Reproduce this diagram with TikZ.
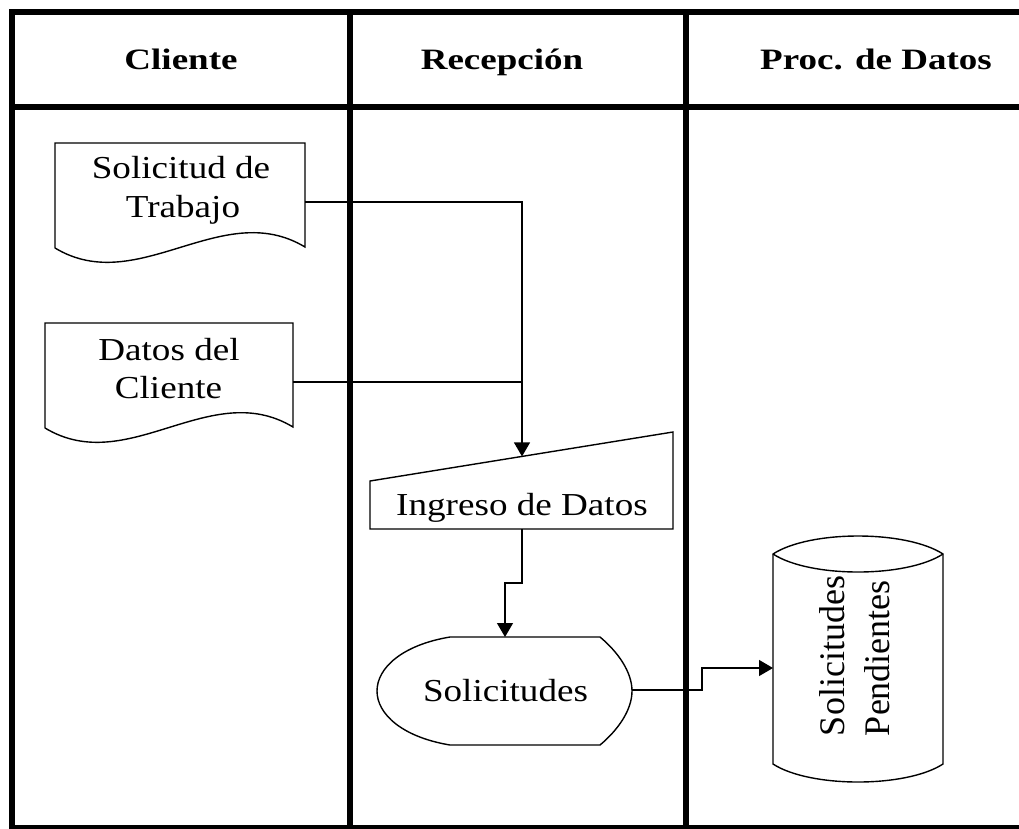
\documentclass[tikz,border=0pt]{standalone}
\usepackage{fontspec}
\usepackage{graphicx}
\setmainfont{Liberation Serif}
\usetikzlibrary{arrows.meta}
\newcommand{\sx}[1]{\scalebox{1.16}[1]{#1}}
\newcommand{\hx}[1]{\scalebox{1.25}[1]{#1}}
\tikzset{
  lane/.style={line width=6pt},
  shapeline/.style={line width=1.4pt, line join=miter},
  conn/.style={line width=1.3pt},
  arr/.style={conn, -{Triangle[width=16pt,length=14pt]}},
  body/.style={inner sep=0pt, font=\fontsize{32}{39}\selectfont, align=center},
  head/.style={inner sep=0pt, font=\bfseries\fontsize{29.6}{36}\selectfont, anchor=base},
}
\begin{document}
\begin{tikzpicture}[x=1pt, y=-1pt]
\useasboundingbox (0,0) rectangle (1019,828);
\fill[white] (0,0) rectangle (1019,828);
% lanes frame
\draw[lane] (12,9) -- (12,826);
\draw[lane] (9,12) -- (1030,12);
\draw[lane] (9,107) -- (1030,107);
\draw[lane] (350,12) -- (350,826);
\draw[lane] (686,12) -- (686,826);
\draw[line width=5pt] (9,827) -- (1030,827);
% headers
\node[head] (h1) at (181,69) {\hx{Cliente}};
\node[head] (h2) at (502,69) {\hx{Recepción}};
\node[head] (h3) at (876,69) {\hx{Proc. de Datos}};
% document 1
\draw[shapeline] (55,248) -- (55,143) -- (305,143) -- (305,247)
  .. controls (222,197) and (138,298) .. (55,248);
\node[body, anchor=base] (d1a) at (181,178) {\sx{Solicitud de}};
\node[body, anchor=base] (d1b) at (183,217) {\sx{Trabajo}};
\coordinate (d1E) at (305,202);
% document 2
\draw[shapeline] (45,428) -- (45,323) -- (293,323) -- (293,427)
  .. controls (210,377) and (128,478) .. (45,428);
\node[body, anchor=base] (d2a) at (169,360) {\sx{Datos del}};
\node[body, anchor=base] (d2b) at (168.5,398) {\sx{Cliente}};
\coordinate (d2E) at (293,382);
% manual input
\draw[shapeline] (370,481) -- (673,432) -- (673,529) -- (370,529) -- cycle;
\node[body, anchor=base] (ing) at (522,515) {\sx{Ingreso de Datos}};
\coordinate (ingN) at (522,456.4);
\coordinate (ingS) at (522,529);
% display
\draw[shapeline] (450,637) -- (600,637)
  .. controls (618,652) and (632,672) .. (632,691)
  .. controls (632,710) and (618,730) .. (600,745) -- (450,745)
  .. controls (402,737) and (377,714) .. (377,691)
  .. controls (377,668) and (402,645) .. (450,637) -- cycle;
\node[body, anchor=base] (sol) at (505.5,701) {\sx{Solicitudes}};
\coordinate (solN) at (505,637);
\coordinate (solE) at (632,690);
% cylinder
\draw[shapeline] (773,554) .. controls (810,530) and (906,530) .. (943,554)
  -- (943,764) .. controls (906,788) and (810,788) .. (773,764) -- cycle;
\draw[shapeline] (773,554) .. controls (810,578) and (906,578) .. (943,554);
\node[inner sep=0pt, rotate=90, align=left, font=\fontsize{36}{45}\selectfont] (pend) at (855,656) {Solicitudes\\Pendientes};
\coordinate (cylW) at (773,668);
% connectors
\draw[conn] (d1E) -- (ingN |- d1E) -- (ingN |- d2E);
\draw[conn] (d2E) -- (ingN |- d2E);
\draw[arr] (ingN |- d2E) -- (ingN);
\draw[arr] (ingS) -- (522,583) -- (505,583) -- (solN);
\draw[arr] (solE) -- (702,690) -- (702,668) -- (cylW);
\end{tikzpicture}
\end{document}
